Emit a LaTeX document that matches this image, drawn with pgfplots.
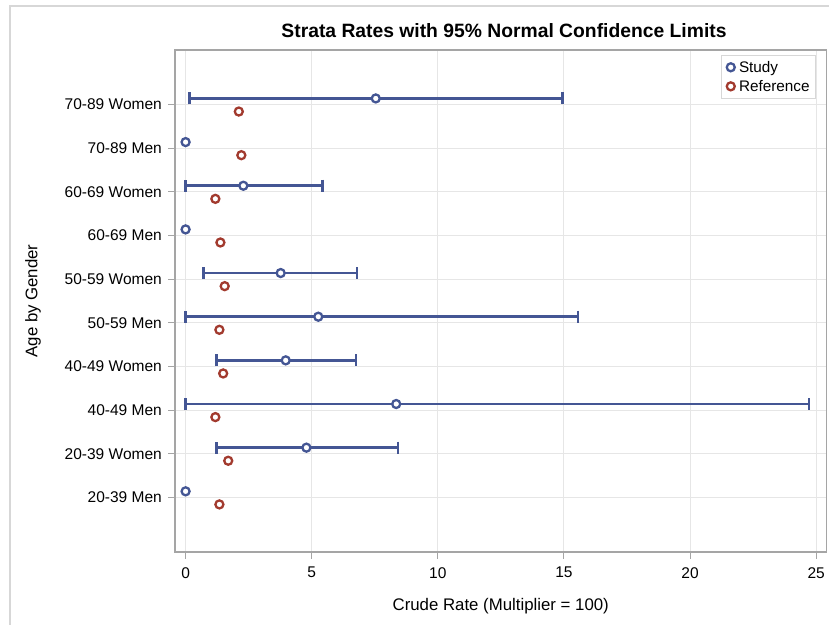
\documentclass[border=0pt]{standalone}
\usepackage{pgfplots}
\pgfplotsset{compat=1.18}
\usepackage{pgfplotstable}
\usepackage{fontspec}
\setmainfont{Liberation Sans}
\definecolor{studyblue}{RGB}{68,86,148}
\definecolor{refred}{RGB}{162,58,46}
\definecolor{gridgray}{RGB}{230,230,230}
\definecolor{framegray}{RGB}{165,165,165}
\definecolor{outergray}{RGB}{215,215,215}

% confidence limits of the study rates (y = category + 0.14)
\pgfplotstableread{
y     x     lo    hi
2.14  4.79  1.23  8.42
3.14  8.35  0.00  24.71
4.14  3.97  1.23  6.76
5.14  5.26  0.00  15.56
6.14  3.77  0.70  6.80
8.14  2.29  0.00  5.42
10.14 7.54  0.15  14.95
}\cidata

\pgfplotstableread{
y     x
1.14  0.00
2.14  4.79
3.14  8.35
4.14  3.97
5.14  5.26
6.14  3.77
7.14  0.00
8.14  2.29
9.14  0.00
10.14 7.54
}\studydata

\pgfplotstableread{
y     x
0.84  1.34
1.84  1.69
2.84  1.18
3.84  1.49
4.84  1.34
5.84  1.55
6.84  1.38
7.84  1.18
8.84  2.21
9.84  2.11
}\refdata

\begin{document}
\begin{tikzpicture}[x=1bp,y=1bp]
\path[use as bounding box] (0,0) rectangle (829,625);
\draw[outergray, line width=1.5bp] (10,0) -- (10,619) -- (829,619);
\begin{axis}[
  at={(175bp,73bp)}, anchor=south west,
  scale only axis, width=651.5bp, height=502bp,
  xmin=-0.42, xmax=25.41,
  ymin=-0.25, ymax=11.25,
  xtick={0,5,10,15,20,25},
  ytick={1,2,3,4,5,6,7,8,9,10},
  yticklabels={20-39 Men,20-39 Women,40-49 Men,40-49 Women,50-59 Men,50-59 Women,60-69 Men,60-69 Women,70-89 Men,70-89 Women},
  /pgf/number format/assume math mode=true,
  tick align=outside, major tick length=7bp,
  xtick pos=lower, ytick pos=left,
  tick style={framegray, line width=1bp},
  axis line style={framegray, line width=1.2bp},
  grid=major, major grid style={gridgray, line width=1bp},
  ticklabel style={font=\fontsize{15.5bp}{18bp}\selectfont, text=black},
  yticklabel style={inner sep=0pt, xshift=-6bp},
  xticklabel style={inner sep=0pt, yshift=-8bp},
  xlabel={Crude Rate (Multiplier = 100)},
  ylabel={Age by Gender},
  label style={font=\fontsize{16.8bp}{20bp}\selectfont},
  xlabel style={at={(axis description cs:0.5,0)}, anchor=base, yshift=-59bp},
  ylabel style={at={(axis description cs:-0.218,0.5)}, anchor=center},
  title={Strata Rates with 95\% Normal Confidence Limits},
  title style={font=\fontsize{19.3bp}{22bp}\selectfont\bfseries, at={(axis description cs:0.505,1)}, anchor=base, yshift=7bp},
  legend style={at={(rel axis cs:0.984,0.99)}, anchor=north east, draw=outergray, line width=1bp,
    font=\fontsize{15.3bp}{18bp}\selectfont, row sep=2.5bp, inner xsep=4bp, inner ysep=3.5bp},
  legend cell align=left,
  legend image code/.code={\path[draw=none,fill=none] (0,0) -- (0.42cm,0cm); \draw[#1] plot coordinates {(0.2cm,0cm)};},
]
\addplot[only marks, mark=none, forget plot,
  error bars/.cd, x dir=both, x explicit, error mark=|,
  error bar style={draw=studyblue, line width=2.7bp},
  error mark options={draw=studyblue, line width=2.7bp, mark size=6bp}]
  table[x=x, y=y, x error plus expr=\thisrow{hi}-\thisrow{x}, x error minus expr=\thisrow{x}-\thisrow{lo}] {\cidata};
\addplot[only marks, mark=*, mark size=4bp, mark options={fill=white, draw=studyblue, line width=2.3bp}]
  table[x=x, y=y] {\studydata};
\addlegendentry{Study}
\addplot[only marks, mark=*, mark size=4bp, mark options={fill=white, draw=refred, line width=2.3bp}]
  table[x=x, y=y] {\refdata};
\addlegendentry{Reference}
\end{axis}
\end{tikzpicture}
\end{document}
